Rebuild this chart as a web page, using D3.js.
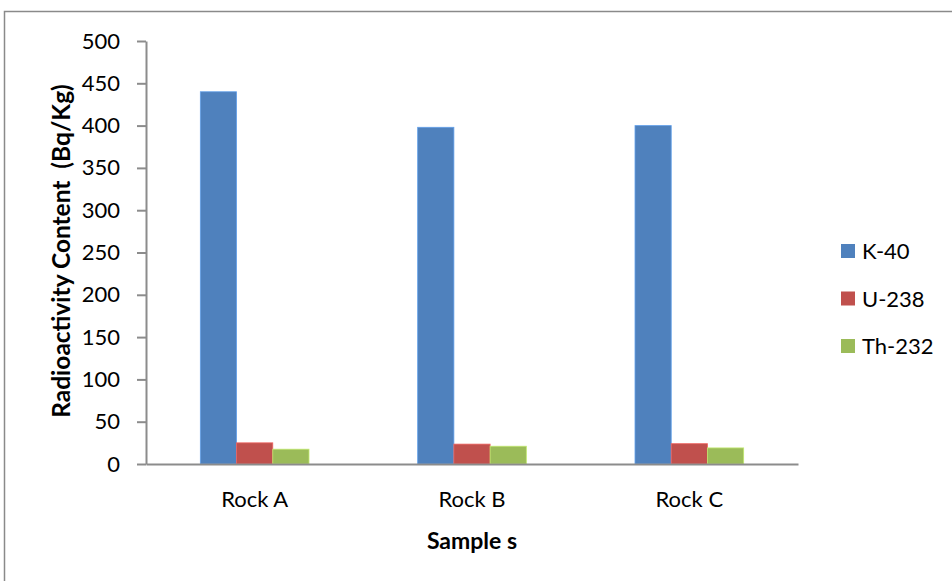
<!DOCTYPE html>
<html>
<head>
<meta charset="utf-8">
<script src="https://cdn.jsdelivr.net/npm/d3@7/dist/d3.min.js"></script>
<style>
  html, body { margin: 0; padding: 0; background: #fff; }
  svg { display: block; font-family: Lato, "Open Sans", sans-serif; }
</style>
</head>
<body>
<svg id="chart" width="952" height="581"></svg>
<script>
// Radioactivity content of rock samples (Bq/Kg)
const samples = ["Rock A", "Rock B", "Rock C"];
const isotopes = ["K-40", "U-238", "Th-232"];
const k40 = [440, 398, 400];
const u238 = [25, 23.5, 24];
const th232 = [17.5, 21, 19];
const yTicks = [0, 50, 100, 150, 200, 250, 300, 350, 400, 450, 500];
const colors = ["#4F81BD", "#C0504D", "#9BBB59"];

const seriesValues = [k40, u238, th232];
const rows = samples.map((s, i) => ({
  sample: s,
  values: isotopes.map((iso, j) => ({ iso, value: seriesValues[j][i], color: colors[j] }))
}));

const svg = d3.select("#chart");
const plot = { left: 146, right: 798, top: 41, bottom: 464 };

// outer frame
svg.append("rect")
  .attr("x", 4.5).attr("y", 11.5)
  .attr("width", 1200).attr("height", 1200)
  .attr("fill", "none").attr("stroke", "#8a8a8a").attr("stroke-width", 1.5);

const x0 = d3.scaleBand().domain(samples).range([plot.left, plot.right]).paddingInner(0).paddingOuter(0);
const x1 = d3.scaleBand().domain(isotopes).range([0, x0.bandwidth()]).paddingInner(0).paddingOuter(1.5);
const y = d3.scaleLinear().domain([0, 500]).range([plot.bottom, plot.top]);

// bars
const groups = svg.append("g").selectAll("g").data(rows).join("g")
  .attr("transform", d => `translate(${x0(d.sample)},0)`);
groups.selectAll("rect").data(d => d.values).join("rect")
  .attr("x", d => x1(d.iso))
  .attr("y", d => y(d.value))
  .attr("width", x1.bandwidth())
  .attr("height", d => y(0) - y(d.value))
  .attr("fill", d => d.color)
  .attr("stroke", d => d3.color(d.color).brighter(0.6))
  .attr("stroke-width", 0.8);

// y axis
const yAxis = svg.append("g")
  .attr("transform", `translate(${plot.left},0)`)
  .call(d3.axisLeft(y).tickValues(yTicks).tickSize(9).tickPadding(17).tickSizeOuter(0));
yAxis.select(".domain").attr("stroke", "#8c8c8c").attr("stroke-width", 2);
yAxis.selectAll(".tick line").attr("stroke", "#8c8c8c").attr("stroke-width", 2);
yAxis.selectAll(".tick text").attr("font-size", 22).attr("fill", "#000")
  .attr("font-family", "Lato, sans-serif");

// x axis
const xAxis = svg.append("g")
  .attr("transform", `translate(0,${plot.bottom})`)
  .call(d3.axisBottom(x0).tickSize(0).tickPadding(27));
xAxis.select(".domain").attr("stroke", "#8c8c8c").attr("stroke-width", 2);
xAxis.selectAll(".tick text").attr("font-size", 22).attr("fill", "#000")
  .attr("font-family", "Lato, sans-serif");

// axis titles
svg.append("text")
  .attr("transform", `translate(70,251) rotate(-90)`)
  .attr("text-anchor", "middle")
  .attr("font-size", 24.5).attr("font-weight", "bold")
  .style("white-space", "pre")
  .text("Radioactivity Content  (Bq/Kg)");

svg.append("text")
  .attr("x", (plot.left + plot.right) / 2)
  .attr("y", 549)
  .attr("text-anchor", "middle")
  .attr("font-size", 23).attr("font-weight", "bold")
  .text("Sample s");

// legend
const legend = svg.append("g").selectAll("g").data(isotopes).join("g")
  .attr("transform", (d, i) => `translate(841,${244 + i * 47.5})`);
legend.append("rect")
  .attr("width", 14).attr("height", 14)
  .attr("fill", (d, i) => colors[i]);
legend.append("text")
  .attr("x", 21).attr("y", 15)
  .attr("font-size", 22)
  .text(d => d);
</script>
</body>
</html>
